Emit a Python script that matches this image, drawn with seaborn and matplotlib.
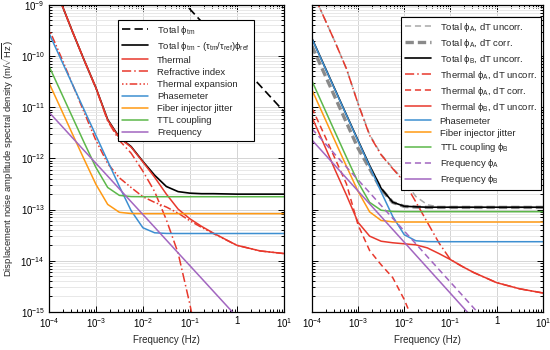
import numpy as np
import pandas as pd
import matplotlib
matplotlib.use("Agg")
import matplotlib.pyplot as plt
import seaborn as sns
from matplotlib.ticker import LogLocator, NullFormatter, FixedLocator, FixedFormatter

nan = np.nan
# frequency grid (Hz)
freq = [1e-4, 1.78e-4, 3.16e-4, 5.62e-4, 1e-3, 1.78e-3, 3.16e-3, 5.62e-3, 1e-2,
        1.78e-2, 3.16e-2, 5.62e-2, 0.1, 0.178, 0.316, 1.0, 3.16, 10.0]

# ---------------- left panel ----------------
total_tm = [nan, nan, nan, nan, nan, nan, nan, nan, nan, nan, nan,
            1.48e-9, 8.3e-10, 4.67e-10, 2.62e-10, 8.3e-11, 2.62e-11, 8.3e-12]
total_corr = [4.47e-9, 1.15e-9, 3.02e-10, 8.32e-11, 2.4e-11, 5.75e-12, 2.57e-12, 1.70e-12, 8.71e-13,
              4.68e-13, 2.82e-13, 2.24e-13, 2.09e-13, 2.04e-13, 2.04e-13, 2.0e-13, 2.0e-13, 2.0e-13]
thermal_L = [4.47e-9, 1.15e-9, 3.02e-10, 8.3e-11, 2.4e-11, 5.62e-12, 2.51e-12, 1.66e-12, 8.51e-13,
             4.27e-13, 2.0e-13, 1.02e-13, 6.6e-14, 4.68e-14, 3.47e-14, 2.0e-14, 1.55e-14, 1.38e-14]
refractive_L = [4.47e-9, 1.15e-9, 3.02e-10, 8.3e-11, 2.34e-11, 5.37e-12, 2.24e-12, 1.26e-12, 5.62e-13,
                2.24e-13, 6.3e-14, 1.41e-14, 1.41e-15, 1e-16, nan, nan, nan, nan]
expansion_L = [3.39e-10, 1.0e-10, 2.82e-11, 7.94e-12, 2.24e-12, 7.94e-13, 4.17e-13, 2.69e-13, 1.78e-13,
               1.38e-13, 1.12e-13, 8.5e-14, 6.03e-14, 4.47e-14, 3.39e-14, 2.0e-14, 1.55e-14, 1.38e-14]
phasemeter_L = [2.8e-10, 8.85e-11, 2.8e-11, 8.85e-12, 2.8e-12, 8.9e-13, 2.82e-13, 9.5e-14, 4.4e-14,
                3.51e-14, 3.41e-14, 3.4e-14, 3.4e-14, 3.4e-14, 3.4e-14, 3.4e-14, 3.4e-14, 3.4e-14]
fiber_L = [3.0e-11, 9.5e-12, 3.0e-12, 9.54e-13, 3.11e-13, 1.26e-13, 8.83e-14, 8.35e-14, 8.3e-14,
           8.3e-14, 8.3e-14, 8.3e-14, 8.3e-14, 8.3e-14, 8.3e-14, 8.3e-14, 8.3e-14, 8.3e-14]
ttl_L = [6.4e-11, 2.02e-11, 6.4e-12, 2.03e-12, 6.64e-13, 2.70e-13, 1.89e-13, 1.79e-13, 1.78e-13,
         1.78e-13, 1.78e-13, 1.78e-13, 1.78e-13, 1.78e-13, 1.78e-13, 1.78e-13, 1.78e-13, 1.78e-13]
frequency_L = [8e-12, 4.5e-12, 2.53e-12, 1.42e-12, 8e-13, 4.5e-13, 2.53e-13, 1.42e-13, 8e-14,
               4.5e-14, 2.53e-14, 1.42e-14, 8e-15, 4.5e-15, 2.53e-15, 8e-16, 2.53e-16, 8e-17]

# ---------------- right panel ----------------
totalA_uncorr = [1.91e-9, 6.03e-10, 1.91e-10, 5.62e-11, 1.19e-11, 2.92e-12, 1.20e-12, 6.48e-13, 3.66e-13,
                 1.80e-13, 1.24e-13, 1.12e-13, 1.1e-13, 1.1e-13, 1.1e-13, 1.1e-13, 1.1e-13, 1.1e-13]
totalA_corr = [1.58e-10, 5.0e-11, 1.58e-11, 5.0e-12, 1.58e-12, 6.3e-13, 2.51e-13, 1.38e-13, 1.15e-13,
               1.12e-13, 1.1e-13, 1.1e-13, 1.1e-13, 1.1e-13, 1.1e-13, 1.1e-13, 1.1e-13, 1.1e-13]
totalB_uncorr = [2.24e-10, 7.07e-11, 2.24e-11, 7.07e-12, 2.25e-12, 7.27e-13, 2.6e-13, 1.39e-13, 1.16e-13,
                 1.13e-13, 1.11e-13, 1.11e-13, 1.11e-13, 1.11e-13, 1.11e-13, 1.11e-13, 1.11e-13, 1.11e-13]
thermalA_uncorr = [1.91e-9, 6.03e-10, 1.91e-10, 5.62e-11, 1.17e-11, 2.82e-12, 1.17e-12, 6.31e-13, 3.47e-13,
                   1.41e-13, 5.62e-14, 2.24e-14, 1.05e-14, 7.76e-15, 5.89e-15, 3.72e-15, 2.82e-15, 2.34e-15]
thermalA_corr = [9.77e-12, 3.16e-12, 1.0e-12, 3.16e-13, 5.01e-14, 1.58e-14, 8.32e-15, 4.68e-15, 1.74e-15,
                 5.0e-16, 1e-16, nan, nan, nan, nan, nan, nan, nan]
thermalB_uncorr = [6.46e-12, 2.0e-12, 6.03e-13, 1.91e-13, 5.62e-14, 3.02e-14, 2.40e-14, 2.24e-14, 2.14e-14,
                   2.04e-14, 1.78e-14, 1.38e-14, 1.05e-14, 7.76e-15, 5.89e-15, 3.72e-15, 2.82e-15, 2.34e-15]
phasemeter_R = [2.2e-10, 6.96e-11, 2.2e-11, 6.96e-12, 2.2e-12, 6.96e-13, 2.21e-13, 7.34e-14, 3.22e-14,
                2.45e-14, 2.36e-14, 2.35e-14, 2.35e-14, 2.35e-14, 2.35e-14, 2.35e-14, 2.35e-14, 2.35e-14]
fiber_R = [2.2e-11, 6.96e-12, 2.2e-12, 6.98e-13, 2.27e-13, 9.0e-14, 6.11e-14, 5.74e-14, 5.7e-14,
           5.7e-14, 5.7e-14, 5.7e-14, 5.7e-14, 5.7e-14, 5.7e-14, 5.7e-14, 5.7e-14, 5.7e-14]
ttl_R = [3.3e-11, 1.04e-11, 3.3e-12, 1.05e-12, 3.42e-13, 1.38e-13, 9.68e-14, 9.16e-14, 9.1e-14,
         9.1e-14, 9.1e-14, 9.1e-14, 9.1e-14, 9.1e-14, 9.1e-14, 9.1e-14, 9.1e-14, 9.1e-14]
frequencyA_R = [3.8e-12, 2.14e-12, 1.2e-12, 6.76e-13, 3.8e-13, 2.14e-13, 1.2e-13, 6.76e-14, 3.8e-14,
                2.14e-14, 1.2e-14, 6.76e-15, 3.8e-15, 2.14e-15, 1.2e-15, 3.8e-16, 1.2e-16, 3.8e-17]
frequencyB_R = [2.3e-12, 1.29e-12, 7.27e-13, 4.09e-13, 2.3e-13, 1.29e-13, 7.27e-14, 4.09e-14, 2.3e-14,
                1.29e-14, 7.27e-15, 4.09e-15, 2.3e-15, 1.29e-15, 7.27e-16, 2.3e-16, 7.27e-17, 2.3e-17]

xtick_vals = [1e-4, 1e-3, 1e-2, 1e-1, 1, 10]
xtick_labels = ["10$^{-4}$", "10$^{-3}$", "10$^{-2}$", "10$^{-1}$", "1", "10$^{1}$"]
ytick_vals = [1e-15, 1e-14, 1e-13, 1e-12, 1e-11, 1e-10, 1e-9]
ytick_labels = ["10$^{-15}$", "10$^{-14}$", "10$^{-13}$", "10$^{-12}$", "10$^{-11}$", "10$^{-10}$", "10$^{-9}$"]

# colours
BLACK = "#000000"
RED = "#e8382c"
BLUE = "#3d8fd1"
ORANGE = "#ff9a14"
GREEN = "#5cb84a"
PURPLE = "#a266c0"
GRAY1 = "#a8a8a8"
GRAY2 = "#8a8a8a"

sns.set_theme(style="ticks")
plt.rcParams["font.family"] = ["Liberation Sans", "DejaVu Sans"]
plt.rcParams["mathtext.fontset"] = "custom"
plt.rcParams["mathtext.rm"] = "Liberation Sans"
plt.rcParams["mathtext.it"] = "Liberation Sans:italic"
plt.rcParams["mathtext.bf"] = "Liberation Sans:bold"
plt.rcParams["font.size"] = 7

fig = plt.figure(figsize=(5.5, 3.5), dpi=100)
axL = fig.add_axes([0.089, 0.109, 0.427, 0.877])
axR = fig.add_axes([0.567, 0.109, 0.420, 0.877])

PHI = "\u03d5"


def draw(ax, y, color, ls="-", lw=1.1, label=None):
    df = pd.DataFrame({"f": freq, "v": y}).dropna()
    sns.lineplot(data=df, x="f", y="v", ax=ax, color=color, linestyle=ls, linewidth=lw,
                 label=label, estimator=None, sort=False, errorbar=None, legend=False)


for ax in (axL, axR):
    ax.set_xscale("log")
    ax.set_yscale("log")

# left panel
draw(axL, total_tm, BLACK, (0, (5, 2.5)), 1.2, f"Total {PHI}$_{{\\rm tm}}$")
draw(axL, total_corr, BLACK, "-", 1.2, f"Total {PHI}$_{{\\rm tm}}$ - (\u03c4$_{{\\rm tm}}$/\u03c4$_{{\\rm ref}}$){PHI}$_{{\\rm ref}}$")
draw(axL, thermal_L, RED, "-", 1.1, "Thermal")
draw(axL, refractive_L, RED, (0, (6, 2, 1, 2)), 1.1, "Refractive index")
draw(axL, expansion_L, RED, (0, (1, 1.5, 1, 1.5, 5, 1.5)), 1.1, "Thermal expansion")
draw(axL, phasemeter_L, BLUE, "-", 1.1, "Phasemeter")
draw(axL, fiber_L, ORANGE, "-", 1.1, "Fiber injector jitter")
draw(axL, ttl_L, GREEN, "-", 1.1, "TTL coupling")
draw(axL, frequency_L, PURPLE, "-", 1.1, "Frequency")

# right panel
draw(axR, totalA_uncorr, GRAY1, (0, (4, 2.5)), 1.1, f"Total {PHI}$_{{\\rm A}}$, dT uncorr.")
draw(axR, totalA_corr, GRAY2, (0, (2.5, 1.2)), 2.4, f"Total {PHI}$_{{\\rm A}}$, dT corr.")
draw(axR, totalB_uncorr, BLACK, "-", 1.2, f"Total {PHI}$_{{\\rm B}}$, dT uncorr.")
draw(axR, thermalA_uncorr, RED, (0, (6, 2, 1, 2)), 1.1, f"Thermal {PHI}$_{{\\rm A}}$, dT uncorr.")
draw(axR, thermalA_corr, RED, (0, (4, 2.5)), 1.1, f"Thermal {PHI}$_{{\\rm A}}$, dT corr.")
draw(axR, thermalB_uncorr, RED, "-", 1.1, f"Thermal {PHI}$_{{\\rm B}}$, dT uncorr.")
draw(axR, phasemeter_R, BLUE, "-", 1.1, "Phasemeter")
draw(axR, fiber_R, ORANGE, "-", 1.1, "Fiber injector jitter")
draw(axR, ttl_R, GREEN, "-", 1.1, f"TTL coupling {PHI}$_{{\\rm B}}$")
draw(axR, frequencyA_R, PURPLE, (0, (4, 2.5)), 1.1, f"Frequency {PHI}$_{{\\rm A}}$")
draw(axR, frequencyB_R, PURPLE, "-", 1.1, f"Frequency {PHI}$_{{\\rm B}}$")

for ax in (axL, axR):
    ax.set_xlim(1e-4, 10)
    ax.set_ylim(1e-15, 1e-9)
    ax.xaxis.set_major_locator(FixedLocator(xtick_vals))
    ax.xaxis.set_major_formatter(FixedFormatter(xtick_labels))
    ax.xaxis.set_minor_locator(LogLocator(base=10, subs=np.arange(2, 10), numticks=20))
    ax.xaxis.set_minor_formatter(NullFormatter())
    ax.yaxis.set_major_locator(FixedLocator(ytick_vals))
    ax.yaxis.set_minor_locator(LogLocator(base=10, subs=np.arange(2, 10), numticks=20))
    ax.yaxis.set_minor_formatter(NullFormatter())
    ax.grid(which="major", axis="both", color="#d4d4d4", linewidth=0.7, zorder=0)
    ax.grid(which="minor", axis="y", color="#e8e8e8", linewidth=0.7, zorder=0)
    ax.set_axisbelow(True)
    ax.tick_params(which="both", direction="in", top=True, right=True, width=0.7,
                   colors="black", labelsize=7, pad=3)
    ax.tick_params(which="major", length=4)
    ax.tick_params(which="minor", length=2.2)
    for s in ax.spines.values():
        s.set_color("black")
        s.set_linewidth(0.9)
    ax.set_xlabel("Frequency (Hz)", fontsize=7, labelpad=4)

axL.yaxis.set_major_formatter(FixedFormatter(ytick_labels))
axL.set_ylabel("Displacement noise amplitude spectral density (m/$\\sqrt{\\rm Hz}$)", fontsize=6.8, labelpad=3)
axR.set_ylabel("")
axR.yaxis.set_major_formatter(NullFormatter())

legkw = dict(loc="upper left", borderaxespad=0, fontsize=6.8, handlelength=2.8, labelspacing=0.32,
             handletextpad=0.9, fancybox=False, framealpha=1.0, edgecolor="black", borderpad=0.4)
hL, lL = axL.get_legend_handles_labels()
legL = axL.legend(hL, lL, bbox_to_anchor=(0.295, 0.951), **legkw)
hR, lR = axR.get_legend_handles_labels()
legR = axR.legend(hR, lR, bbox_to_anchor=(0.385, 0.961), **legkw)
for leg in (legL, legR):
    leg.get_frame().set_linewidth(0.8)

fig.savefig("out.png", dpi=100)
